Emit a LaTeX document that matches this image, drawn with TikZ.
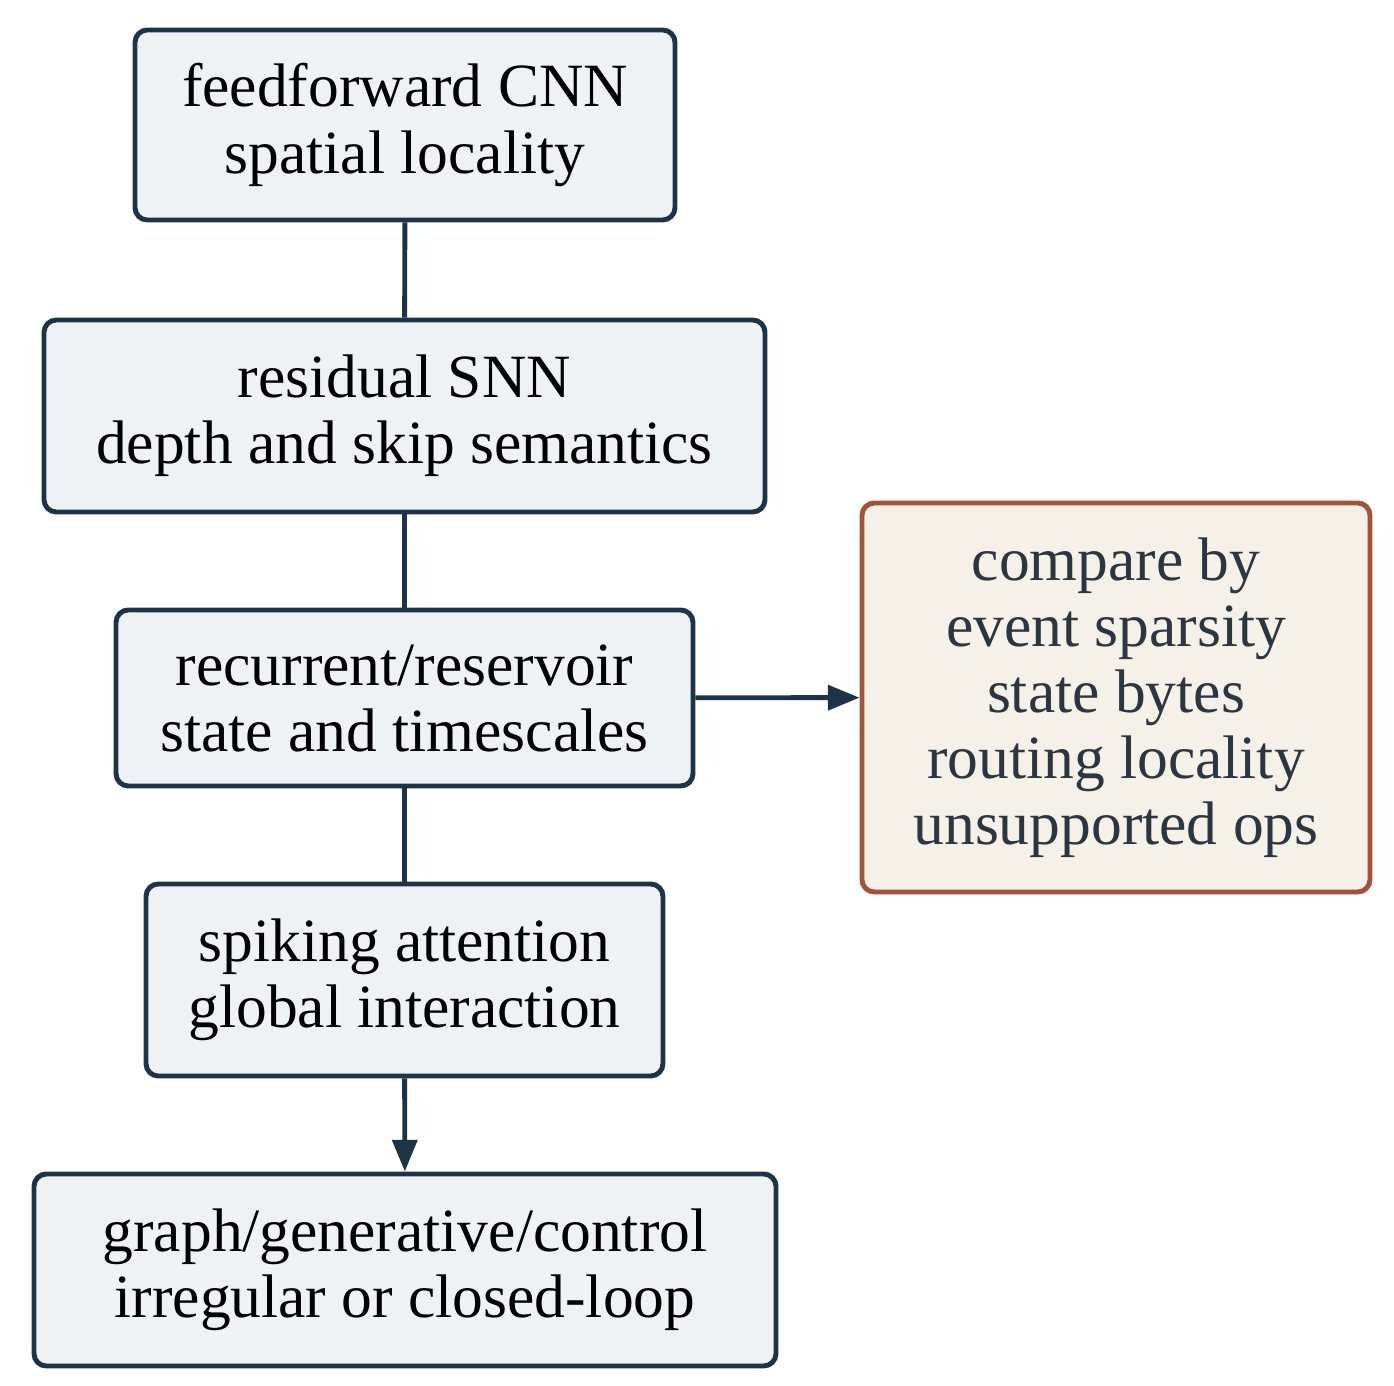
\documentclass[tikz,border=0pt]{standalone}
\usepackage{fontspec}
\setmainfont{Liberation Serif}
\usepackage{xcolor}
\usetikzlibrary{arrows.meta}
\definecolor{navy}{HTML}{1F3347}
\definecolor{boxfill}{HTML}{EEF2F4}
\definecolor{rust}{HTML}{A3523C}
\definecolor{cream}{HTML}{F5F0E8}
\definecolor{ink}{HTML}{2B3640}
\tikzset{
  stage/.style={draw=navy, fill=boxfill, line width=1.4pt, rounded corners=3.5pt,
    align=center, inner sep=0pt, font=\fontsize{17.5}{18.8}\selectfont},
  metric/.style={stage, draw=rust, fill=cream, text=ink},
  link/.style={navy, line width=1.4pt},
}
\begin{document}
\begin{tikzpicture}[x=1cm,y=1cm]
                \useasboundingbox (0,0) rectangle (13.94,13.86);
                % model family stages
                \node[stage, minimum width=5.4cm, minimum height=1.9cm] (cnn) at (4.05,12.61) {feedforward CNN\\spatial locality};
                \node[stage, minimum width=7.21cm, minimum height=1.92cm] (res) at (4.045,9.70) {residual SNN\\depth and skip semantics};
                \node[stage, minimum width=5.77cm, minimum height=1.76cm] (rec) at (4.045,6.88) {recurrent/reservoir\\state and timescales};
                \node[stage, minimum width=5.17cm, minimum height=1.92cm] (att) at (4.045,4.06) {spiking attention\\global interaction};
                \node[stage, minimum width=7.42cm, minimum height=1.92cm] (gra) at (4.05,1.16) {graph/generative/control\\irregular or closed-loop};
                
                % comparison criteria
                \node[metric, minimum width=5.08cm, minimum height=3.89cm] (cmp) at (11.16,6.885) {compare by\\event sparsity\\state bytes\\routing locality\\unsupported ops};
                
                % connectors
                \draw[link] (cnn) -- (res);
                \draw[link] (res) -- (rec);
                \draw[link] (rec) -- (att);
                \draw[link, -{Triangle[length=9pt,width=7pt]}] (att) -- (gra);
                \draw[link, -{Triangle[length=9pt,width=7pt]}] (rec) -- (cmp);
            \end{tikzpicture}
\end{document}
